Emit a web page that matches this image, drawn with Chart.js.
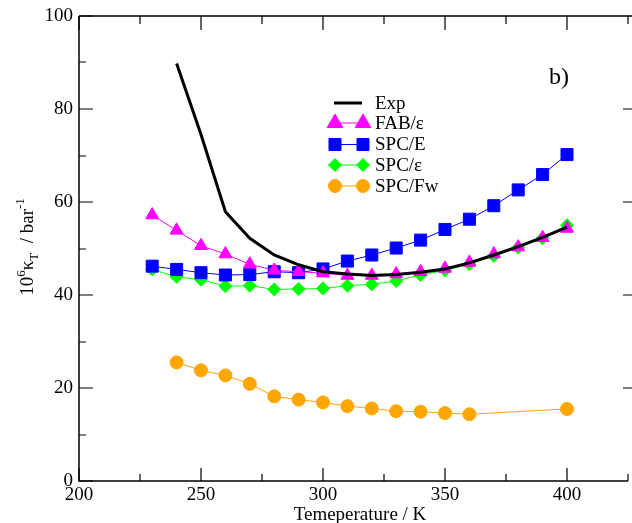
<!DOCTYPE html>
<html>
<head>
<meta charset="utf-8">
<script src="https://cdn.jsdelivr.net/npm/chart.js@4.4.1/dist/chart.umd.min.js"></script>
<style>
  html, body { margin: 0; padding: 0; background: #fff; overflow: hidden; }
  #wrap { width: 632px; height: 523px; }
</style>
</head>
<body>
<div id="wrap"><canvas id="kappa-chart" width="632" height="523"></canvas></div>
<script>
// temperatures (K)
const tempsExp = [240, 250, 260, 270, 280, 290, 300, 310, 320, 330, 340, 350, 360, 370, 380, 390, 400];
const tempsModel = [230, 240, 250, 260, 270, 280, 290, 300, 310, 320, 330, 340, 350, 360, 370, 380, 390, 400];
const tempsFw = [240, 250, 260, 270, 280, 290, 300, 310, 320, 330, 340, 350, 360, 400];

// 10^6 kappa_T / bar^-1
const expValues = [89.8, 74.5, 57.9, 52.2, 48.6, 46.5, 45.0, 44.5, 44.2, 44.4, 44.9, 45.6, 46.9, 48.6, 50.4, 52.4, 54.6];
const fabEpsValues = [57.2, 53.9, 50.6, 48.8, 46.6, 45.3, 45.0, 44.7, 44.2, 44.2, 44.5, 45.0, 45.7, 47.0, 48.8, 50.3, 52.3, 54.3];
const spceValues = [46.2, 45.5, 44.8, 44.3, 44.4, 45.0, 44.8, 45.6, 47.3, 48.6, 50.1, 51.8, 54.1, 56.3, 59.2, 62.6, 65.9, 70.2];
const spcEpsValues = [45.5, 43.9, 43.3, 41.9, 42.0, 41.2, 41.3, 41.4, 42.0, 42.3, 43.0, 44.3, 45.3, 46.6, 48.4, 50.2, 52.2, 55.0];
const spcFwValues = [25.5, 23.8, 22.7, 20.9, 18.2, 17.5, 16.9, 16.1, 15.6, 15.0, 14.9, 14.6, 14.35, 15.5];

// axis ticks
const xTicks = [200, 250, 300, 350, 400];
const xMinorTicks = [225, 275, 325, 375, 425];
const yTicks = [0, 20, 40, 60, 80, 100];
const yMinorTicks = [10, 30, 50, 70, 90];

const FONT = "'Liberation Serif', 'Times New Roman', serif";

const toXY = (xs, ys) => ys.map((y, i) => ({ x: xs[i], y: y }));

const series = [
  { label: "Exp", xs: tempsExp, ys: expValues, color: "#000000", width: 3, pointStyle: false, radius: 0 },
  { label: "FAB/\u03b5", xs: tempsModel, ys: fabEpsValues, color: "#ff00ff", width: 1, pointStyle: "triangle", radius: 7.5 },
  { label: "SPC/E", xs: tempsModel, ys: spceValues, color: "#0000ff", width: 1, pointStyle: "rect", radius: 8.5 },
  { label: "SPC/\u03b5", xs: tempsModel, ys: spcEpsValues, color: "#00ff00", width: 1, pointStyle: "rectRot", radius: 6.5 },
  { label: "SPC/Fw", xs: tempsFw, ys: spcFwValues, color: "#ffa500", width: 1, pointStyle: "circle", radius: 6.5 },
];

const datasets = series.map((s) => ({
  label: s.label,
  data: toXY(s.xs, s.ys),
  borderColor: s.color,
  backgroundColor: s.color,
  borderWidth: s.width,
  pointStyle: s.pointStyle,
  pointRadius: s.radius,
  pointBorderWidth: 1,
  pointBorderColor: s.color,
  pointBackgroundColor: s.color,
  tension: 0,
  clip: false,
}));

// frame, inward ticks, legend and texts drawn like the original plot
const decorPlugin = {
  id: "decor",
  afterDatasetsDraw(chart) {
    const ctx = chart.ctx;
    const { left, right, top, bottom } = chart.chartArea;
    const xs = chart.scales.x;
    const ys = chart.scales.y;
    const W = chart.width;

    ctx.save();
    ctx.strokeStyle = "#000";
    ctx.lineWidth = 1.5;
    ctx.beginPath();
    ctx.moveTo(left, top);
    ctx.lineTo(W, top);
    ctx.moveTo(left, top);
    ctx.lineTo(left, bottom);
    ctx.lineTo(right, bottom);
    ctx.stroke();

    ctx.lineWidth = 1.2;
    ctx.beginPath();
    xTicks.forEach((v) => {
      const px = Math.round(xs.getPixelForValue(v));
      ctx.moveTo(px, bottom); ctx.lineTo(px, bottom - 13);
      ctx.moveTo(px, top); ctx.lineTo(px, top + 14);
    });
    xMinorTicks.forEach((v) => {
      const px = Math.round(xs.getPixelForValue(v));
      ctx.moveTo(px, bottom); ctx.lineTo(px, bottom - 7);
      ctx.moveTo(px, top); ctx.lineTo(px, top + 8);
    });
    yTicks.forEach((v) => {
      const py = Math.round(ys.getPixelForValue(v));
      ctx.moveTo(left, py); ctx.lineTo(left + 14, py);
      if (v > 0 && v < 100) { ctx.moveTo(W - 9, py); ctx.lineTo(W, py); }
    });
    yMinorTicks.forEach((v) => {
      const py = Math.round(ys.getPixelForValue(v));
      ctx.moveTo(left, py); ctx.lineTo(left + 7, py);
    });
    ctx.stroke();

    // legend
    const rows = [103, 123, 144.5, 165, 186];
    ctx.font = "19px " + FONT;
    ctx.textBaseline = "middle";
    ctx.textAlign = "left";
    series.forEach((s, i) => {
      const y = rows[i];
      ctx.strokeStyle = s.color;
      ctx.fillStyle = s.color;
      ctx.lineWidth = s.width;
      ctx.beginPath();
      ctx.moveTo(334, y);
      ctx.lineTo(362, y);
      ctx.stroke();
      if (s.pointStyle) {
        const r = s.pointStyle === "triangle" ? 9 : s.radius;
        const opts = { pointStyle: s.pointStyle, radius: r, rotation: 0, borderWidth: 1 };
        ctx.lineWidth = 1;
        Chart.helpers.drawPoint(ctx, opts, 335, y);
        Chart.helpers.drawPoint(ctx, opts, 363, y);
      }
      ctx.fillStyle = "#000";
      ctx.fillText(s.label, 375, y + 1);
    });

    // panel tag
    ctx.fillStyle = "#000";
    ctx.font = "24px " + FONT;
    ctx.textBaseline = "alphabetic";
    ctx.fillText("b)", 549, 84);

    // x title
    ctx.font = "19px " + FONT;
    ctx.textAlign = "center";
    ctx.fillText("Temeperature / K", 360, 520);

    // y title (rotated, with super/subscripts)
    const big = "19px " + FONT;
    const small = "13px " + FONT;
    const parts = [
      { t: "10", f: big, dy: 0 },
      { t: "6", f: small, dy: -8 },
      { t: "\u03ba", f: big, dy: 0 },
      { t: "T", f: small, dy: 5 },
      { t: "  / bar", f: big, dy: 0 },
      { t: "-1", f: small, dy: -9 },
    ];
    let total = 0;
    parts.forEach((p) => { ctx.font = p.f; p.w = ctx.measureText(p.t).width; total += p.w; });
    ctx.translate(33, 247);
    ctx.rotate(-Math.PI / 2);
    ctx.textAlign = "left";
    let cx = -total / 2;
    parts.forEach((p) => {
      ctx.font = p.f;
      ctx.fillText(p.t, cx, p.dy);
      cx += p.w;
    });
    ctx.restore();
  },
};

const config = {
  type: "line",
  data: { datasets },
  options: {
    responsive: false,
    animation: false,
    layout: { autoPadding: false, padding: { top: 16, left: 0, right: 4, bottom: 0 } },
    plugins: {
      legend: { display: false },
      tooltip: { enabled: false },
      title: { display: false },
    },
    scales: {
      x: {
        type: "linear",
        min: 200,
        max: 425,
        afterBuildTicks: (scale) => { scale.ticks = xTicks.map((v) => ({ value: v })); },
        afterFit: (scale) => {
          scale.height = 42;
          scale.paddingLeft = 0;
          scale.paddingRight = 0;
        },
        grid: { display: false, drawTicks: false },
        border: { display: false },
        ticks: { color: "#000", font: { family: FONT, size: 19 }, padding: 3, maxRotation: 0 },
      },
      y: {
        type: "linear",
        min: 0,
        max: 100,
        afterBuildTicks: (scale) => { scale.ticks = yTicks.map((v) => ({ value: v })); },
        afterFit: (scale) => {
          scale.width = 79;
          scale.paddingTop = 0;
          scale.paddingBottom = 0;
        },
        grid: { display: false, drawTicks: false },
        border: { display: false },
        ticks: { color: "#000", font: { family: FONT, size: 19 }, padding: 6 },
      },
    },
  },
  plugins: [decorPlugin],
};

new Chart(document.getElementById("kappa-chart"), config);
</script>
</body>
</html>
